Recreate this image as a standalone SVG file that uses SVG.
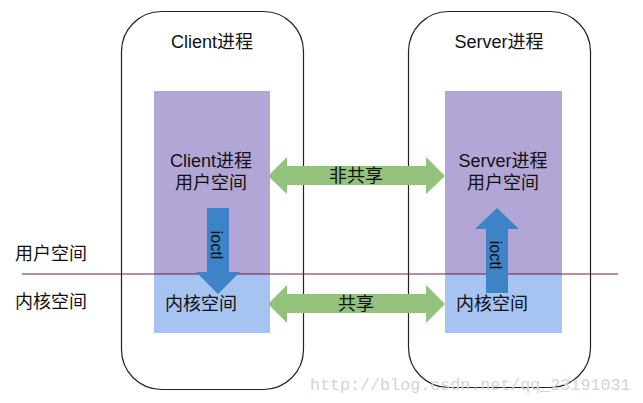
<svg xmlns="http://www.w3.org/2000/svg" width="643" height="403" viewBox="0 0 643 403">
<style>
text{font-family:"Liberation Sans","Noto Sans CJK SC",sans-serif;font-size:18px;fill:#111}
.c{text-anchor:middle}
.proc{fill:#fff;stroke:#222;stroke-width:1.2}
.user{fill:#b1a6d5}
.kern{fill:#a6c3f1}
.share{fill:#92c27b}
.ioctl{fill:#3d83c6}
.io{font-size:16px}
.wm{font-family:"Liberation Mono",monospace;font-size:16.7px;fill:#d4d4d4}
</style>
<rect width="643" height="403" fill="#fff"/>
<g id="client">
<rect class="proc" x="121.5" y="11.5" width="182" height="378" rx="40"/>
<text class="c" x="212" y="48">Client进程</text>
<rect class="user" x="154" y="91" width="116" height="183"/>
<rect class="kern" x="154" y="274" width="116" height="59"/>
<text class="c" x="211" y="167">Client进程</text>
<text class="c" x="211" y="189">用户空间</text>
<text x="165" y="310">内核空间</text>
</g>
<g id="server">
<rect class="proc" x="408.5" y="11.5" width="182" height="376" rx="40"/>
<text class="c" x="499" y="48">Server进程</text>
<rect class="user" x="445" y="91" width="117" height="183"/>
<rect class="kern" x="445" y="274" width="117" height="59"/>
<text class="c" x="503" y="167">Server进程</text>
<text class="c" x="503" y="189">用户空间</text>
<text x="456" y="310">内核空间</text>
</g>
<g id="labels">
<text x="15" y="260">用户空间</text>
<text x="15" y="308">内核空间</text>
</g>
<g id="connectors">
<line x1="22" y1="274" x2="618" y2="274" stroke="#6e1f40" stroke-width="1"/>
<polygon class="share" points="268,176 287,157 287,166 426,166 426,157 445,176 426,194 426,185 287,185 287,194"/>
<text class="c" x="356" y="182">非共享</text>
<polygon class="share" points="268,304 287,285 287,294 426,294 426,285 445,304 426,323 426,313 287,313 287,323"/>
<text class="c" x="356" y="310">共享</text>
<polygon class="ioctl" points="207,208 229,208 229,272 240,272 218,294 196,272 207,272"/>
<text class="c io" transform="translate(211,245) rotate(90)">ioctl</text>
<polygon class="ioctl" points="486,293 508,293 508,229 519,229 497,208 475,229 486,229"/>
<text class="c io" transform="translate(490,255) rotate(90)">ioctl</text>
</g>
<text class="wm" x="310" y="390">http://blog.csdn.net/qq_23191031</text>
</svg>
